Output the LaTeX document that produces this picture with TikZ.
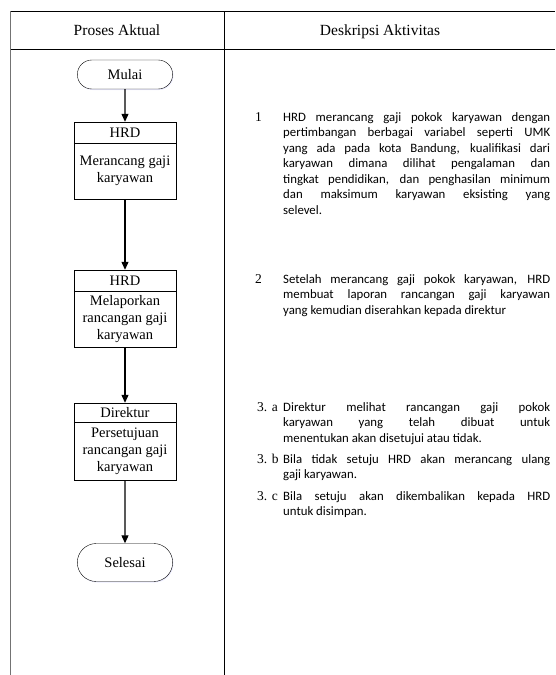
\documentclass[tikz,border=0pt]{standalone}
\usepackage{fontspec}
\setmainfont{Liberation Serif}
\newfontfamily\descfont{Carlito}
\usetikzlibrary{arrows.meta, positioning, shapes.misc, shadows}

\begin{document}
\begin{tikzpicture}[x=1pt, y=-1pt,
    glow/.style={drop shadow={shadow xshift=0.8pt, shadow yshift=-1pt, fill=blue!40, opacity=0.2}},
    terminal/.style={draw, rounded rectangle, minimum width=102pt, fill=white, glow,
        font=\fontsize{14.5}{17}\selectfont},
    prosesbox/.style={draw, rectangle, minimum width=102pt, minimum height=77pt, fill=white, glow},
    boxtext/.style={align=center, inner sep=0pt, font=\fontsize{14.5}{17}\selectfont},
    flow/.style={-{Triangle[length=8pt, width=7pt]}, line width=1.1pt},
    headtext/.style={anchor=base, inner sep=0pt, font=\fontsize{15.5}{18}\selectfont},
    num/.style={anchor=base west, inner sep=0pt, font=\fontsize{13.5}{16}\selectfont},
    desc/.style={anchor=base west, inner sep=0pt, text width=267pt, align=justify,
        font=\descfont\fontsize{12.8}{15.5}\selectfont}
]
    \useasboundingbox (0,0) rectangle (555,675);

    % Table frame
    \draw[line width=0.8pt] (10,11) -- (555,11);
    \draw[line width=0.8pt] (10,49) -- (555,49);
    \draw[line width=1.4pt, black!55] (10.5,11) -- (10.5,675);
    \draw[line width=0.9pt] (224,11) -- (224,675);
    \node[headtext] (headproses) at (117,35) {Proses Aktual};
    \node[headtext] (headdesk) at (380,35) {Deskripsi Aktivitas};

    % Flowchart
    \node[terminal, minimum height=29pt] (mulai) at (125,74.5) {Mulai};

    \node[prosesbox] (hrd1) at (125,160.5) {};
    \draw ([yshift=-21pt]hrd1.north west) -- ([yshift=-21pt]hrd1.north east);
    \node[boxtext] (hrd1head) at ([yshift=-10.5pt]hrd1.north) {HRD};
    \node[boxtext] (hrd1body) at ([yshift=-10.5pt]hrd1.center) {Merancang gaji\\karyawan};

    \node[prosesbox] (hrd2) at (125,308.5) {};
    \draw ([yshift=-21pt]hrd2.north west) -- ([yshift=-21pt]hrd2.north east);
    \node[boxtext] (hrd2head) at ([yshift=-10.5pt]hrd2.north) {HRD};
    \node[boxtext] (hrd2body) at ([yshift=-10.5pt]hrd2.center) {Melaporkan\\rancangan gaji\\karyawan};

    \node[prosesbox] (dir) at (125,441.5) {};
    \draw ([yshift=-19pt]dir.north west) -- ([yshift=-19pt]dir.north east);
    \node[boxtext] (dirhead) at ([yshift=-9.5pt]dir.north) {Direktur};
    \node[boxtext] (dirbody) at ([yshift=-9.5pt]dir.center) {Persetujuan\\rancangan gaji\\karyawan};

    \node[terminal, minimum height=38pt] (selesai) at (125,562.5) {Selesai};

    \draw[flow] (mulai) -- (hrd1);
    \draw[flow] (hrd1) -- (hrd2);
    \draw[flow] (hrd2) -- (dir);
    \draw[flow] (dir) -- (selesai);

    % Descriptions
    \node[num] (n1) at (255,121) {1};
    \node[desc] (d1) at (283,121) {HRD merancang gaji pokok karyawan dengan\linebreak
        pertimbangan berbagai variabel seperti UMK\linebreak
        yang ada pada kota Bandung, kualifikasi dari\linebreak
        karyawan dimana dilihat pengalaman dan\linebreak
        tingkat pendidikan, dan penghasilan minimum\linebreak
        dan maksimum karyawan eksisting yang\linebreak
        selevel.};

    \node[num] (n2) at (255,283) {2};
    \node[desc] (d2) at (283,283) {Setelah merancang gaji pokok karyawan, HRD\linebreak
        membuat laporan rancangan gaji karyawan\linebreak
        yang kemudian diserahkan kepada direktur};

    \node[num] (n3a) at (257,411) {3. a};
    \node[desc] (d3a) at (283,411) {Direktur melihat rancangan gaji pokok\linebreak
        karyawan yang telah dibuat untuk\linebreak
        menentukan akan disetujui atau tidak.};

    \node[num] (n3b) at (257,463) {3. b};
    \node[desc] (d3b) at (283,463) {Bila tidak setuju HRD akan merancang ulang\linebreak
        gaji karyawan.};

    \node[num] (n3c) at (257,500) {3. c};
    \node[desc] (d3c) at (283,500) {Bila setuju akan dikembalikan kepada HRD\linebreak
        untuk disimpan.};
\end{tikzpicture}
\end{document}
